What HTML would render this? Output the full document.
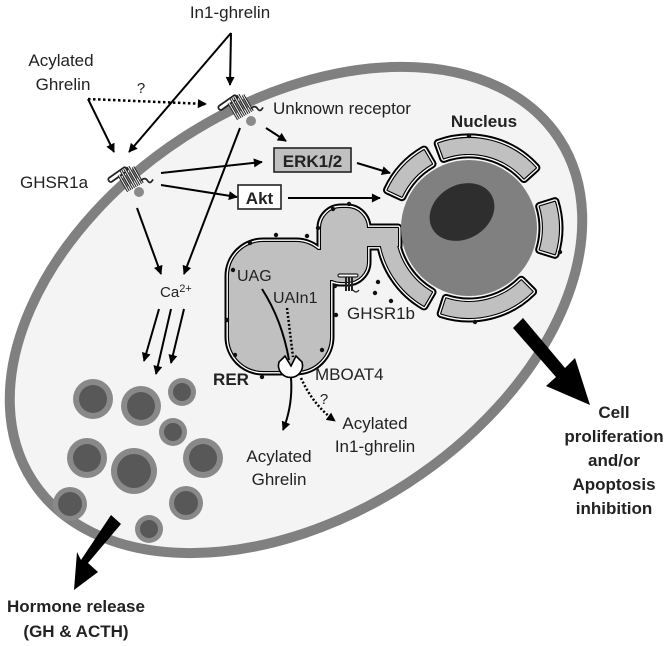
<!DOCTYPE html>
<html><head><meta charset="utf-8"><style>
html,body{margin:0;padding:0;background:#fff;}
svg{display:block;}
text{font-family:"Liberation Sans",Arial,sans-serif;fill:#222;}
</style></head><body>
<svg width="672" height="646" viewBox="0 0 672 646" xmlns="http://www.w3.org/2000/svg">
<defs>
<marker id="ah" viewBox="0 0 10 10" refX="9" refY="5" markerWidth="10" markerHeight="9" markerUnits="userSpaceOnUse" orient="auto">
<path d="M0,0 L10,5 L0,10 Z" fill="#000"/></marker>
<g id="rec">
<rect x="-14" y="-9" width="16" height="3.5" rx="1.5" fill="#fff" stroke="#222" stroke-width="1.3" transform="rotate(-35)"/>
<path d="M-6,-6 l0,14 M-3,-8 l0,16 M0,-8 l0,16 M3,-8 l0,16 M6,-6 l0,14" stroke="#222" stroke-width="2.2" fill="none" transform="rotate(-30)"/>
<path d="M-6,-6 l0,14 M-3,-8 l0,16 M0,-8 l0,16 M3,-8 l0,16 M6,-6 l0,14" stroke="#fff" stroke-width="0.7" fill="none" transform="rotate(-30)"/>
<path d="M8,2 q3,-3 5,0 q2,3 4,-1" stroke="#222" stroke-width="1.3" fill="none"/>
</g>
</defs>

<!-- cell -->
<ellipse cx="296" cy="310" rx="314" ry="206" transform="rotate(-33 296 310)" fill="#f4f4f4" stroke="#808080" stroke-width="10"/>

<!-- vesicles -->
<g fill="#898989">
<circle cx="93" cy="399" r="20"/><circle cx="141" cy="406" r="20"/><circle cx="182" cy="392" r="14"/>
<circle cx="173" cy="432" r="14"/><circle cx="87" cy="458" r="20"/><circle cx="134" cy="471" r="23"/>
<circle cx="203" cy="458" r="20"/><circle cx="70" cy="504" r="17"/><circle cx="186" cy="503" r="17"/>
<circle cx="149" cy="529" r="14"/></g>
<g fill="#585858">
<circle cx="93" cy="399" r="14"/><circle cx="141" cy="406" r="14"/><circle cx="182" cy="392" r="9"/>
<circle cx="173" cy="432" r="9"/><circle cx="87" cy="458" r="14"/><circle cx="134" cy="471" r="17"/>
<circle cx="203" cy="458" r="14"/><circle cx="70" cy="504" r="12"/><circle cx="186" cy="503" r="12"/>
<circle cx="149" cy="529" r="9"/></g>

<!-- ER + envelope, layered -->
<g fill="#000" stroke="#000" stroke-width="9" stroke-linejoin="round">
<rect x="229" y="242" width="101" height="129" rx="34"/>
<rect x="321" y="208" width="46" height="74" rx="20"/>
<rect x="314" y="250" width="16" height="20"/>
<rect x="360" y="228" width="38" height="18"/>
<rect x="330" y="266" width="22" height="14"/>
<path d="M387.5,190 A90,90 0 0 1 424,150.1 L432,163.9 A74,74 0 0 0 401.9,196.7 Z"/>
<path d="M438.2,143.4 A90,90 0 0 1 535.9,167.8 L524,178.5 A74,74 0 0 0 443.7,158.4 Z"/>
<path d="M555,201.7 A90,90 0 0 1 555,254.3 L539.7,249.6 A74,74 0 0 0 539.7,206.4 Z"/>
<path d="M532.6,291.6 A90,90 0 0 1 441.2,313.6 L446.1,298.4 A74,74 0 0 0 521.3,280.3 Z"/>
<path d="M424,305.9 A90,90 0 0 1 379.9,240.5 L395.7,238.3 A74,74 0 0 0 432,292.1 Z"/>
</g>
<g fill="#fff" stroke="#fff" stroke-width="5" stroke-linejoin="round">
<rect x="229" y="242" width="101" height="129" rx="34"/>
<rect x="321" y="208" width="46" height="74" rx="20"/>
<rect x="314" y="250" width="16" height="20"/>
<rect x="360" y="228" width="38" height="18"/>
<rect x="330" y="266" width="22" height="14"/>
<path d="M387.5,190 A90,90 0 0 1 424,150.1 L432,163.9 A74,74 0 0 0 401.9,196.7 Z"/>
<path d="M438.2,143.4 A90,90 0 0 1 535.9,167.8 L524,178.5 A74,74 0 0 0 443.7,158.4 Z"/>
<path d="M555,201.7 A90,90 0 0 1 555,254.3 L539.7,249.6 A74,74 0 0 0 539.7,206.4 Z"/>
<path d="M532.6,291.6 A90,90 0 0 1 441.2,313.6 L446.1,298.4 A74,74 0 0 0 521.3,280.3 Z"/>
<path d="M424,305.9 A90,90 0 0 1 379.9,240.5 L395.7,238.3 A74,74 0 0 0 432,292.1 Z"/>
</g>
<g fill="none" stroke="#000" stroke-width="2.2" stroke-linejoin="round">
<rect x="229" y="242" width="101" height="129" rx="34"/>
<rect x="321" y="208" width="46" height="74" rx="20"/>
<rect x="314" y="250" width="16" height="20"/>
<rect x="360" y="228" width="38" height="18"/>
<rect x="330" y="266" width="22" height="14"/>
<path d="M387.5,190 A90,90 0 0 1 424,150.1 L432,163.9 A74,74 0 0 0 401.9,196.7 Z"/>
<path d="M438.2,143.4 A90,90 0 0 1 535.9,167.8 L524,178.5 A74,74 0 0 0 443.7,158.4 Z"/>
<path d="M555,201.7 A90,90 0 0 1 555,254.3 L539.7,249.6 A74,74 0 0 0 539.7,206.4 Z"/>
<path d="M532.6,291.6 A90,90 0 0 1 441.2,313.6 L446.1,298.4 A74,74 0 0 0 521.3,280.3 Z"/>
<path d="M424,305.9 A90,90 0 0 1 379.9,240.5 L395.7,238.3 A74,74 0 0 0 432,292.1 Z"/>
</g>
<g fill="#c0c0c0" stroke="none">
<rect x="229" y="242" width="101" height="129" rx="34"/>
<rect x="321" y="208" width="46" height="74" rx="20"/>
<rect x="314" y="250" width="16" height="20"/>
<rect x="360" y="228" width="38" height="18"/>
<rect x="330" y="266" width="22" height="14"/>
<path d="M387.5,190 A90,90 0 0 1 424,150.1 L432,163.9 A74,74 0 0 0 401.9,196.7 Z"/>
<path d="M438.2,143.4 A90,90 0 0 1 535.9,167.8 L524,178.5 A74,74 0 0 0 443.7,158.4 Z"/>
<path d="M555,201.7 A90,90 0 0 1 555,254.3 L539.7,249.6 A74,74 0 0 0 539.7,206.4 Z"/>
<path d="M532.6,291.6 A90,90 0 0 1 441.2,313.6 L446.1,298.4 A74,74 0 0 0 521.3,280.3 Z"/>
<path d="M424,305.9 A90,90 0 0 1 379.9,240.5 L395.7,238.3 A74,74 0 0 0 432,292.1 Z"/>
</g>
<!-- ribosome dots -->
<g fill="#111">
<circle cx="250" cy="243" r="2.2"/><circle cx="276" cy="235" r="2.2"/><circle cx="307" cy="236" r="2.2"/>
<circle cx="233" cy="270" r="2.2"/><circle cx="227" cy="320" r="2.2"/><circle cx="235" cy="355" r="2.2"/>
<circle cx="262" cy="377" r="2.2"/><circle cx="322" cy="350" r="2.2"/><circle cx="336" cy="315" r="2.2"/>
<circle cx="333" cy="209" r="2.2"/><circle cx="349" cy="204" r="2.2"/><circle cx="318" cy="228" r="2.2"/>
<circle cx="335" cy="286" r="2.2"/><circle cx="375" cy="293" r="2.2"/><circle cx="391" cy="301" r="2.2"/>
<circle cx="469" cy="136" r="2.2"/><circle cx="560" cy="252" r="2.2"/><circle cx="475" cy="322" r="2.2"/>
<circle cx="378" cy="282" r="2.2"/></g>

<!-- nucleus -->
<circle cx="469" cy="228" r="68" fill="#808080"/>
<ellipse cx="462" cy="212" rx="34" ry="27" transform="rotate(-30 462 212)" fill="#2e2e2e"/>

<!-- receptors -->
<circle cx="139" cy="192" r="5" fill="#8a8a8a"/>
<use href="#rec" transform="translate(130,178) scale(1.35)"/>
<circle cx="251" cy="121" r="5" fill="#8a8a8a"/>
<use href="#rec" transform="translate(240,106) scale(1.35)"/>
<g transform="translate(350,282)">
<rect x="-12" y="-8" width="20" height="3" rx="1.5" fill="#fff" stroke="#222" stroke-width="1.2"/>
<path d="M-4,-5 l0,14 M-1,-5 l0,14 M2,-5 l0,14" stroke="#222" stroke-width="2"/>
<path d="M3,8 q3,4 6,0" stroke="#222" fill="none" stroke-width="1.2"/>
</g>

<!-- MBOAT4 -->
<path d="M279,362 A12,12 0 1 0 302,362 L296,356 L291,366 L285,356 Z" fill="#fff" stroke="#000" stroke-width="1.6"/>

<!-- internal lines -->
<path d="M262,289 Q282,320 289,360" stroke="#000" stroke-width="2" fill="none"/>
<path d="M287,308 L293,357" stroke="#000" stroke-width="2.5" stroke-dasharray="2,2" fill="none"/>
<path d="M291,378 Q293,405 283,430" stroke="#000" stroke-width="2" fill="none" marker-end="url(#ah)"/>
<path d="M301,378 Q313,405 335,421" stroke="#000" stroke-width="2.5" stroke-dasharray="2,2" fill="none" marker-end="url(#ah)"/>

<!-- connector arrows -->
<g stroke="#000" stroke-width="2" fill="none" marker-end="url(#ah)">
<path d="M231,33 L230,85"/>
<path d="M231,33 L129,152"/>
<path d="M88,99 L114,152"/>
<path d="M161,173 L262,162"/>
<path d="M161,185 L237,197"/>
<path d="M266,128 L286,141"/>
<path d="M357,163 L390,173"/>
<path d="M288,198 L380,198"/>
<path d="M137,208 L161,274"/>
<path d="M240,128 L184,274"/>
<path d="M159,309 L144,361"/>
<path d="M171,309 L156,374"/>
<path d="M184,309 L171,363"/>
</g>
<path d="M88,99 L206,104" stroke="#000" stroke-width="2.5" stroke-dasharray="2.5,2.5" fill="none" marker-end="url(#ah)"/>

<!-- boxes -->
<rect x="274" y="148" width="77" height="24" fill="#c0c0c0" stroke="#222" stroke-width="1.6"/>
<text x="312.5" y="167" font-size="17" font-weight="bold" text-anchor="middle">ERK1/2</text>
<rect x="238" y="185" width="43" height="24" fill="#fff" stroke="#222" stroke-width="1.6"/>
<text x="259.5" y="204" font-size="17" font-weight="bold" text-anchor="middle">Akt</text>

<!-- big arrows -->
<path d="M513,328 L523,318 L565,368 L575,358 L590,405 L546,386 L556,377 Z" fill="#000"/>
<path d="M111,515 L121,524 L88,563 L98,572 L74,590 L77,552 L81,560 Z" fill="#000"/>

<!-- labels -->
<g font-size="17">
<text x="230" y="18" text-anchor="middle">In1-ghrelin</text>
<text x="61" y="66" text-anchor="middle">Acylated</text>
<text x="63" y="90" text-anchor="middle">Ghrelin</text>
<text x="141" y="93" text-anchor="middle" font-size="15">?</text>
<text x="273" y="114">Unknown receptor</text>
<text x="20" y="188">GHSR1a</text>
<text x="381" y="319" text-anchor="middle">GHSR1b</text>
<text x="315" y="380">MBOAT4</text>
<text x="375" y="429" text-anchor="middle">Acylated</text>
<text x="375" y="452" text-anchor="middle">In1-ghrelin</text>
<text x="279" y="462" text-anchor="middle">Acylated</text>
<text x="279" y="485" text-anchor="middle">Ghrelin</text>
</g>
<text x="237" y="281" font-size="16" fill="#333">UAG</text>
<text x="273" y="303" font-size="16" fill="#333">UAIn1</text>
<text x="324" y="404" font-size="15" text-anchor="middle">?</text>
<text x="160" y="297" font-size="15">Ca<tspan dy="-5" font-size="11">2+</tspan></text>
<g font-weight="bold" font-size="17">
<text x="484" y="127" text-anchor="middle">Nucleus</text>
<text x="231" y="385" text-anchor="middle">RER</text>
<text x="614" y="418" text-anchor="middle">Cell</text>
<text x="614" y="442" text-anchor="middle">proliferation</text>
<text x="614" y="466" text-anchor="middle">and/or</text>
<text x="614" y="490" text-anchor="middle">Apoptosis</text>
<text x="614" y="514" text-anchor="middle">inhibition</text>
<text x="76" y="612" text-anchor="middle">Hormone release</text>
<text x="76" y="637" text-anchor="middle">(GH &amp; ACTH)</text>
</g>
</svg>
</body></html>
